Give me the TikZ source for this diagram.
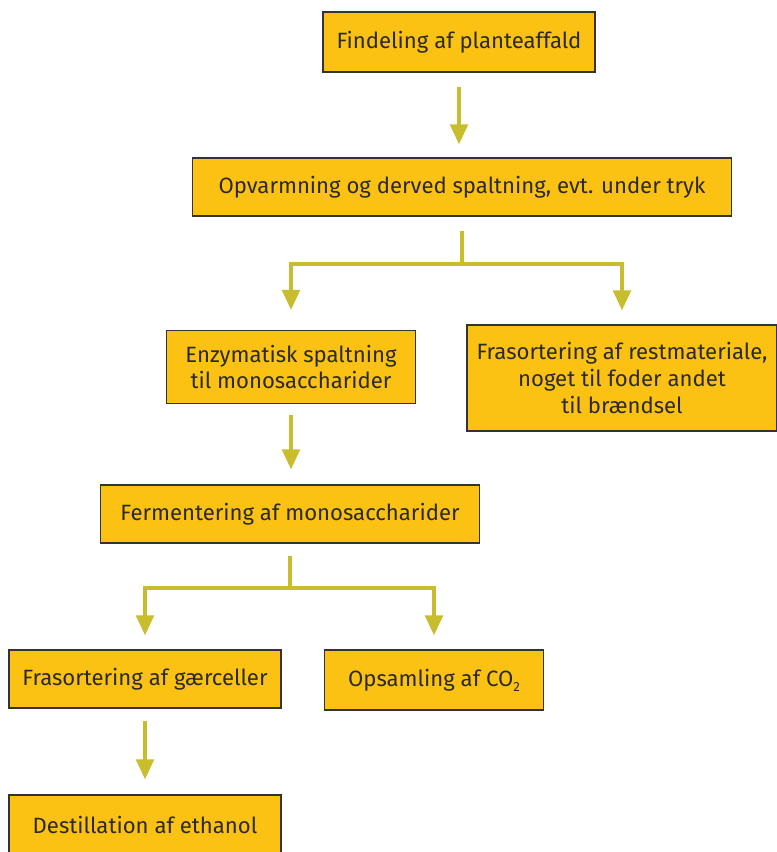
\documentclass[tikz,border=0pt]{standalone}
\usepackage{fontspec}
\setmainfont{Fira Sans}
\usetikzlibrary{arrows.meta}
\definecolor{boxyellow}{HTML}{FBC213}
\definecolor{arrowolive}{HTML}{C8BD2C}
\definecolor{textgray}{HTML}{2B2A28}

\begin{document}
\begin{tikzpicture}[x=0.75pt, y=-0.75pt, font=\fontsize{16.6}{20.2}\selectfont,
    stepbox/.style={draw=black!80, line width=0.8pt, fill=boxyellow, text=textgray,
      align=center, inner sep=0pt},
    flow/.style={draw=arrowolive, line width=3pt},
    >={Triangle[width=13pt,length=15pt]}]
    \clip (0,0) rectangle (777,852);
    \fill[white] (0,0) rectangle (777,852);

    \node[stepbox, minimum width=272*0.75pt, minimum height=60*0.75pt] (find) at (459,42) {Findeling af planteaffald};
    \node[stepbox, minimum width=539*0.75pt, minimum height=58*0.75pt] (opv) at (462,187) {Opvarmning og derved spaltning, evt. under tryk};
    \node[stepbox, minimum width=249*0.75pt, minimum height=73*0.75pt] (enz) at (291,367) {Enzymatisk spaltning\\til monosaccharider};
    \node[stepbox, minimum width=310*0.75pt, minimum height=106*0.75pt] (rest) at (622,378) {Frasortering af restmateriale,\\noget til foder andet\\til brændsel};
    \node[stepbox, minimum width=379*0.75pt, minimum height=58*0.75pt] (ferm) at (290,514) {Fermentering af monosaccharider};
    \node[stepbox, minimum width=272*0.75pt, minimum height=58*0.75pt] (gaer) at (145,679) {Frasortering af gærceller};
    \node[stepbox, minimum width=219*0.75pt, minimum height=60*0.75pt] (co2) at (434,680) {Opsamling af CO\raisebox{-0.45ex}{\fontsize{10}{10}\selectfont 2}};
    \node[stepbox, minimum width=272*0.75pt, minimum height=60*0.75pt] (dest) at (145,825) {Destillation af ethanol};

    % straight steps
    \draw[flow, ->, shorten <=14*0.75pt, shorten >=13*0.75pt] (find) -- (find |- opv.north);
    \draw[flow, ->, shorten <=11*0.75pt, shorten >=15*0.75pt] (enz) -- (enz |- ferm.north);
    \draw[flow, ->, shorten <=12*0.75pt, shorten >=15*0.75pt] (gaer) -- (gaer |- dest.north);

    % branches
    \draw[flow] ([yshift=-14*0.75pt]opv.south) -- ++(0,33) coordinate (split1);
    \draw[flow, ->, line cap=rect] (split1) -| ([yshift=20*0.75pt]enz.north);
    \draw[flow, ->, line cap=rect] (split1) -| ([yshift=14*0.75pt]rest.north);
    \draw[flow] ([yshift=-12*0.75pt]ferm.south) -- ++(0,32) coordinate (split2);
    \draw[flow, ->, line cap=rect] (split2) -| ([yshift=14*0.75pt]gaer.north);
    \draw[flow, ->, line cap=rect] (split2) -| ([yshift=14*0.75pt]co2.north);
\end{tikzpicture}
\end{document}
